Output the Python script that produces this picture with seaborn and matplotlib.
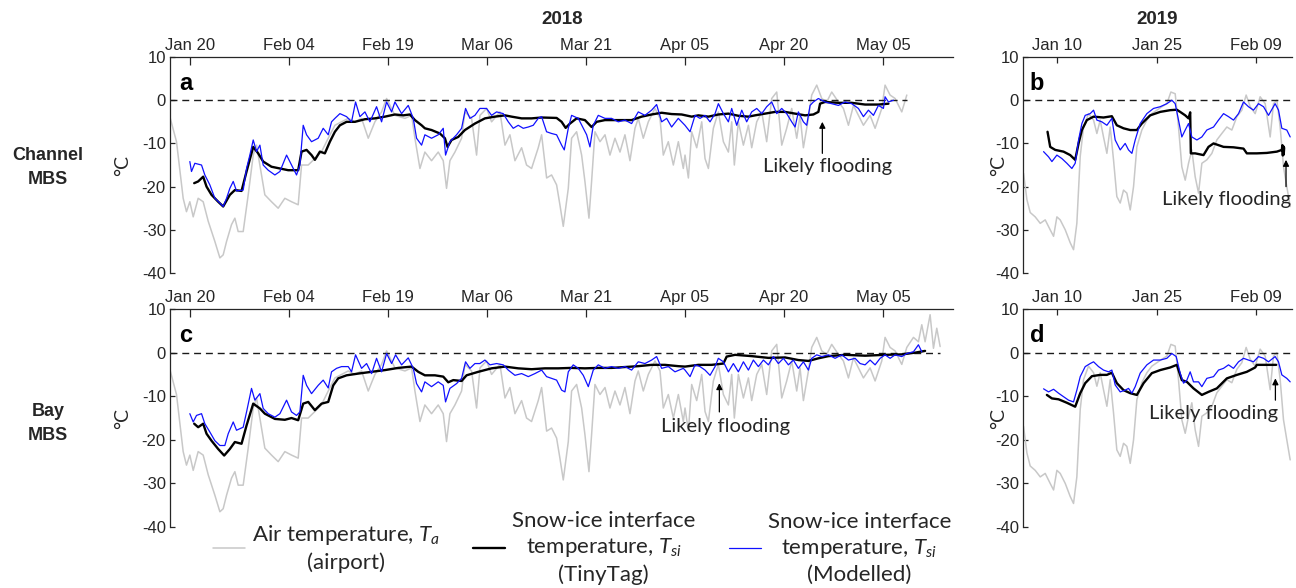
import numpy as np
import pandas as pd
import seaborn as sns
import matplotlib.pyplot as plt
import matplotlib.dates as mdates
from matplotlib.lines import Line2D

# ---- 2018 season, days after 20 Jan 2018 ----
air18_day = [-3.03, -2.02, -1.01, -0.51, 0, 0.51, 1.26, 2.02, 2.78, 3.79, 4.55, 5.05, 5.56, 6.31, 6.82,
             7.32, 8.08, 8.84, 9.6, 10.1, 10.86, 11.36, 12.37, 13.38, 14.39, 15.4, 16.41, 16.92, 17.93,
             18.94, 19.95, 20.96, 21.97, 22.98, 23.99, 25, 26.01, 27.02, 28.03, 29.04, 29.8, 31.06,
             32.58, 33.59, 34.09, 34.85,
             35.6, 36.61, 37.62, 38.38, 38.88, 39.39, 40.15, 41.16, 41.66, 42.67, 43.43, 43.94, 44.95,
             45.7, 46.97, 47.73, 48.48, 49.24, 50.25, 51, 51.76, 52.77, 53.28, 54.04, 54.79, 55.55,
             56.05, 56.56, 57.32, 57.82, 58.58, 59.34, 59.84, 60.45, 60.85, 61.36, 62.12, 62.88, 63.63,
             64.39, 65.15, 65.9, 66.66, 67.42, 67.92, 68.68, 69.44, 70.45, 71.21, 71.71, 72.47, 73.23,
             73.99, 74.74,
             75, 75.51, 76.01, 76.77, 77.53, 78.03, 78.54, 79.29, 80.05, 80.81, 81.57, 82.07, 82.47,
             83.08, 83.84, 84.6, 85.1, 85.86, 86.62, 87.37, 88.13, 88.89, 89.65, 90.4, 91.16, 91.92,
             92.42, 92.93, 93.69, 94.19, 94.95, 95.71, 96.46, 97.22, 98.23, 98.99, 99.75, 100.51,
             101.26, 102.02, 103.03, 103.79, 104.8, 105.3, 106.06, 106.82, 107.83, 108.59, 109.6,
             110.35, 110.86, 111.36, 112.12, 112.63, 113.13, 113.64]
air18_temp = [-3.8, -9.6, -22.7, -25.8, -23.5, -27, -22.7, -23.5, -28, -32.7, -36.5, -35.8, -32.7, -28.8,
              -27.3, -30.4, -30.4, -21.9, -12.7, -10.4, -17.3, -21.9, -23.5, -25, -22.7, -23.5, -24.2,
              -15, -15, -13.5, -11.9, -8.8, -5.8, -5, -4.2, -5, -4.2, -8.8, -5, -2.7, 0.4, -3.5, -4.2,
              -3.5, -8.8, -15.8,
              -12, -14, -12, -14, -20.4, -14, -12, -8.8, -2.7, -4.2, -12.7, -3.5, -1.9, -5, -2.7, -10.4,
              -8, -14, -11, -15, -15.8, -11, -8, -18, -17.3, -19.6, -24.2, -29.2, -20.4, -8.8, -7.3,
              -12.7, -18.8, -27.3, -18.8, -7.3, -9.6, -8, -12.7, -8.8, -12, -8, -14, -6.5, -4.2, -8.8,
              -5, -1.9, -4.2, -12.7, -9.6, -15, -9.6, -15.8,
              -12.7, -18, -7.3, -11, -5, -13.5, -15.8, -6.5, -2.7, -9.6, -12, -5, -15, -5, -10.4, -5.8,
              -11, -5, -2.7, -9.6, 0.4, 1.9, -10.4, -6.5, -1.9, -8.8, -3.5, -11, -4.2, 1.2, 3.5, 0.4,
              -0.4, 1.9, -0.4, -1.9, -5.8, -1.2, -3.5, -5.8, -3.5, -6.5, -1.9, 3.5, 1.2, 0.4, -2.7, 1.2,
              3.5, 2.5, 6.4, 2.5, 8.7, 1.0, 5.6, 1.4]

ch_mod_day = [0, 0.25, 0.76, 1.77, 2.27, 3.03, 3.79, 4.55, 5.05, 5.56, 6.06, 6.57, 7.07, 8.08, 8.59, 9.09,
              9.6, 10.1, 10.61, 11.11, 11.87, 12.88, 13.64, 14.65, 15.4, 16.16, 16.67, 17.17, 17.68,
              18.43, 19.44, 20.2, 20.96, 21.46, 21.97, 22.73, 23.74, 24.49, 25.1, 25.76, 26.52, 27.27,
              28.28, 29.04, 29.8, 30.56, 31.06, 32.07, 33.08, 33.84, 34.34, 35.1,
              35.6, 36.61, 37.62, 38.38, 38.73, 39.39, 40.4, 41.16, 41.76, 42.42, 43.18, 43.93, 44.94,
              45.7, 46.46, 47.47, 48.23, 48.98, 49.74, 50.5, 51.26, 52.01, 52.77, 53.28, 54.03, 54.79,
              55.55, 56.31, 56.71, 57.32, 57.82, 58.83, 59.59, 60.1, 60.6, 61.1, 61.86, 62.87, 63.88,
              64.89, 65.9, 66.91, 67.92, 68.93, 69.94, 70.7, 71.46, 72.22, 72.97, 73.98, 74.99,
              75.76, 76.52, 77.27, 78.03, 78.79, 79.55, 80.05, 80.81, 81.57, 82.07, 82.83, 83.59, 84.34,
              85.1, 85.86, 86.62, 87.37, 88.13, 88.89, 89.65, 90.4, 91.16, 91.67, 92.17, 92.93, 93.43,
              93.94, 94.44, 95.2, 96.21, 97.22, 98.23, 99.24, 100.25, 101.26, 102.02, 102.78, 103.54,
              104.29, 105.05, 105.3, 105.81, 106.57]
ch_mod_temp = [-14.2, -16.5, -14.6, -15, -17.3, -19.6, -22.7, -23.8, -24.6, -22.7, -20.4, -18.8, -21,
               -20.8, -15.8, -12.7, -9.2, -11.9, -10.4, -15, -16.2, -17.3, -16.5, -12.7, -15, -17.3,
               -15, -5.8, -8, -9.6, -8.8, -6.5, -8, -5, -4.2, -3.1, -3.8, -5, -0.4, -3.8, -2.7, -5,
               -1.5, -5, -0.4, -2.7, -0.4, -3.1, -1.2, -4.2, -8.8, -10.4,
               -8, -8.8, -8, -6.5, -12.7, -9.6, -8, -6.5, -1.9, -4.2, -3.5, -1.9, -1.9, -3.5, -2.7,
               -3.1, -5, -6.5, -5.8, -6.5, -6.2, -5.8, -4.2, -3.8, -7.3, -7.7, -8, -10.4, -11.5, -6.5,
               -3.5, -4.2, -6.5, -8, -10.8, -5.8, -3.5, -4.2, -4.2, -5, -4.6, -5.4, -2.7, -3.5, -2.3,
               -1, -5, -4.2, -6.2, -4.2, -5.8,
               -7.3, -3.5, -4.2, -3.5, -5, -3.1, -0.8, -3.1, -5, -1.9, -5.8, -2.3, -5, -2.7, -1.9,
               -3.1, -1.5, -0.4, -3.1, -1.9, -3.1, -5, -6.2, -2.7, -5, -5.8, -1.2, -0.4, 0.4, -0.4,
               -0.8, -1.2, -0.4, -0.8, -1.9, -3.8, -2.3, -3.5, -1.2, -1.9, 0.8, -0.4, 0]

ch_tag_day = [0.66, 1.26, 2.02, 2.53, 3.28, 4.29, 5.05, 6.06, 6.82, 7.83, 8.59, 9.6, 10.35, 11.11, 12.37,
              13.64, 14.9, 16.41, 16.92, 17.68, 18.43, 18.94, 19.7, 20.45, 21.21, 21.97, 22.73, 23.74,
              25, 26.52, 28.03, 29.55, 31.06, 32.32, 33.33, 34.09, 35.1,
              35.6, 36.61, 37.87, 38.63, 39.03, 39.64, 40.65, 41.66, 43.18, 44.69, 46.21, 47.72, 48.73,
              50.25, 51.76, 53.28, 55.55, 56.31, 56.92, 57.57, 58.58, 59.84, 60.85, 61.61, 62.87,
              64.89, 66.91, 68.43, 69.94, 71.46, 72.97, 74.49,
              76.01, 77.02, 78.54, 80.05, 81.57, 83.08, 84.6, 85.61, 87.12, 88.64, 90.15, 91.67, 93.18,
              94.44, 95.2, 95.45, 96.21, 98.23, 100.25, 102.27, 104.29, 105.81]
ch_tag_temp = [-19.2, -18.8, -17.7, -20, -21.9, -23.5, -24.6, -21.9, -20.8, -21, -16.5, -10.8, -12.3,
               -14.2, -15.4, -15.8, -16.2, -16.2, -11.9, -11.5, -12.7, -13.8, -11.9, -12.3, -9.6, -7.3,
               -5.8, -5, -5, -4.4, -4.2, -3.8, -3.3, -3.5, -3.3, -4.6, -5.8,
               -6.5, -6.9, -7.7, -8.8, -10.8, -9.2, -8.5, -6.9, -5.4, -4.2, -3.8, -3.5, -3.8, -4.2,
               -4.2, -4, -4.1, -5, -6.4, -5.4, -4.2, -4.6, -6.2, -5, -4.6, -4.6, -4.6, -3.8, -3.3,
               -2.9, -3.2, -3.3,
               -3.8, -3.5, -3.8, -3.3, -3.1, -3.6, -3.8, -3.5, -3.1, -2.7, -2.7, -3.1, -3.5, -3.3,
               -2.7, -0.8, -0.4, -0.6, -0.6, -1, -1, -0.8]

bay_mod_day = [0, 0.51, 1.01, 1.77, 2.27, 3.03, 3.79, 4.55, 5.3, 5.81, 6.57, 7.07, 8.08, 8.59, 9.34, 9.85,
               10.61, 11.11, 11.87, 12.88, 13.64, 14.65, 15.4, 16.16, 16.67, 17.17, 17.68, 18.43, 19.44,
               20.2, 20.96, 21.46, 22.22, 22.98, 23.99, 24.49, 25.1, 26.01, 26.77, 27.53, 28.28, 29.04,
               29.8, 30.56, 31.16, 32.07, 33.08, 33.84, 34.34, 35.1,
               35.6, 36.61, 37.62, 38.38, 38.73, 39.39, 40.4, 41.16, 41.76, 42.42, 43.18, 43.93, 44.69,
               45.45, 46.46, 47.47, 48.23, 49.24, 50.25, 51.26, 52.27, 53.28, 54.03, 54.79, 55.55,
               56.31, 56.81, 57.32, 58.07, 58.83, 59.59, 60.35, 61.1, 61.86, 62.87, 63.88, 64.89, 65.9,
               66.91, 67.92, 68.93, 69.94, 70.7, 71.46, 72.47, 73.48, 74.74,
               75, 75.76, 76.52, 77.27, 78.03, 78.79, 79.55, 80.05, 80.81, 81.57, 82.32, 83.08, 83.84,
               84.6, 85.35, 86.11, 86.87, 87.63, 88.38, 89.14, 89.9, 90.66, 91.41, 92.17, 92.93, 93.69,
               94.19, 94.95, 95.71, 96.72, 97.73, 98.74, 99.75, 100.76, 101.52, 102.27, 103.03, 103.79,
               104.55, 105.3, 106.06, 106.82, 107.83, 108.59, 109.6, 110.35, 110.86]
bay_mod_temp = [-14, -15.9, -14.4, -14, -16.3, -18.2, -20.2, -21.3, -21.3, -18.6, -15.9, -17.8, -17.1,
                -13.6, -8.2, -10.9, -9.4, -12.8, -14, -14.8, -14, -10.9, -13.6, -14.4, -13.6, -5.2,
                -7.5, -9.4, -7.5, -6.3, -8.1, -4.4, -3.6, -3.2, -3.2, -4.4, -0.5, -3.6, -2.5, -4.8,
                -1.3, -4.4, -0.2, -2.5, -0.5, -2.8, -1.2, -3.6, -7.1, -9,
                -6.7, -7.8, -6.7, -7.5, -11.3, -8.2, -7.1, -5.9, -2.1, -3.6, -2.5, -2.5, -1.7, -2.8,
                -2.5, -2.8, -4, -5.2, -4.8, -5.5, -4.8, -4, -5.5, -5.9, -6.3, -8.6, -9, -4.4, -2.8,
                -3.6, -5.2, -7.8, -4, -2.8, -3.6, -3.2, -3.6, -3.2, -4, -2.1, -2.5, -1.7, -0.9, -3.6,
                -3.2, -4.4, -3.6,
                -4, -5.5, -2.8, -3.2, -4, -5.2, -3.2, -1.3, -2.1, -4.4, -2.5, -4.4, -2.1, -4, -1.7,
                -3.2, -1.7, -2.8, -0.9, -2.5, -1.3, -2.8, -1.7, -3.6, -2.1, -4, -1.3, -0.5, -0.9, -0.5,
                -1.3, -0.5, -1.7, -1.3, -2.5, -2.8, -1.7, -2.8, -1.3, -0.5, -1.3, -0.5, -0.9, -0.2, 0.2,
                1.8, 0.2]

bay_tag_day = [0.66, 1.26, 2.02, 2.53, 3.28, 4.29, 5.2, 6.06, 6.82, 7.83, 8.59, 9.6, 10.61, 11.36, 12.88,
               14.39, 15.4, 16.41, 17.17, 17.93, 18.94, 19.95, 20.96, 21.72, 22.47, 23.74, 25.51, 27.53,
               29.55, 31.57, 33.59, 34.6,
               35.6, 37.12, 38.38, 39.14, 39.9, 41.16, 41.91, 43.68, 45.7, 47.72, 49.74, 51.76, 53.78,
               55.8, 57.82, 59.84, 61.86, 63.88, 65.9, 67.92, 69.94, 71.96, 73.98,
               75, 77.02, 79.04, 80.81, 81.31, 82.58, 85.1, 87.63, 90.15, 92.17, 93.69, 95.2, 96.72,
               99.24, 102.27, 105.3, 107.83, 109.85, 111.36]
bay_tag_temp = [-16.3, -17.1, -16.3, -18.6, -20.2, -22.1, -23.6, -22.1, -20.5, -20.9, -16.7, -11.7, -12.8,
                -14, -15.2, -15.4, -15, -15.5, -11.7, -11.3, -13.2, -11.7, -11.3, -7.5, -5.9, -5.2,
                -4.8, -4.4, -4, -3.5, -3.2, -4.4,
                -5.2, -5.2, -5.5, -6.8, -6.3, -6.5, -5.2, -4.4, -3.6, -3.2, -3.6, -3.8, -3.6, -3.6,
                -3.5, -3.6, -3.5, -3.5, -3.3, -3.1, -2.8, -2.8, -3.1,
                -3.2, -2.8, -2.8, -2.5, -0.9, -0.5, -0.8, -1.2, -1.1, -1.7, -1.9, -1.3, -0.8, -0.5,
                -0.7, -0.5, -0.4, 0, 0.4]

# ---- 2019 season, days after 10 Jan 2019 ----
air19_day = [-5.08, -4.57, -4.07, -3.32, -2.56, -1.81, -1.06, -0.55, -0.05, 0.45, 1.21, 1.96, 2.46, 2.96,
             3.47, 3.97, 4.72, 5.48, 5.98, 6.48, 6.98, 7.49, 7.99, 8.49, 8.99, 9.5, 10, 10.5, 11.01,
             11.51, 12.01, 12.76, 13.52, 14.27, 15.03, 15.78, 16.53, 17.14, 17.79, 18.29, 18.79, 19.3,
             19.8, 20.3, 20.8, 21.31, 21.81, 22.56, 23.32, 24.07, 24.82, 25.58, 26.33, 27.09, 27.84,
             28.49, 29.1, 29.85, 30.6, 31.36, 32.11, 32.61, 33.12, 33.62, 34.12, 34.62, 35.13]
air19_temp = [-16.9, -23, -26, -27, -28.5, -27.7, -30, -31.5, -27, -27.7, -30, -33, -34.6, -28.5, -13,
              -6.2, -3.1, -4.6, -7.7, -4.6, -8.5, -12.3, -6.2, -13.8, -22.3, -23.8, -20.8, -21.5, -25.4,
              -20, -10.8, -6.9, -4.6, -3.1, -2.3, -1.5, -0.8, 1.9, 1.5, -6.2, -15.4, -18.5, -14.6,
              -11.5, -17.7, -21.5, -14.6, -13.8, -12.3, -9.2, -7.7, -6.2, -6.9, -3.8, -2.3, 1.2, -1.5,
              -3.1, 0.8, -0.8, -8.5, -0.8, 0, -6.2, -15.4, -20, -24.6]

ch19_mod_day = [-2.06, -1.31, -0.8, -0.05, 0.7, 1.46, 2.21, 2.71, 3.22, 3.72, 4.22, 4.97, 5.48, 5.98, 6.73,
                7.49, 8.24, 8.74, 9.5, 10.25, 10.75, 11.26, 11.76, 12.51, 13.52, 14.52, 15.53, 16.53,
                17.29, 17.79, 18.29, 18.79, 19.3, 19.8, 20.3, 21.06, 21.81, 22.56, 23.57, 24.32, 25.08,
                25.83, 26.58, 27.34, 28.09, 28.84, 29.6, 30.35, 31.11, 31.86, 32.86, 33.37, 33.87,
                34.62, 35.13]
ch19_mod_temp = [-11.9, -13.1, -14.2, -12.7, -13.5, -14.6, -15.8, -14.6, -9.2, -5.4, -3.5, -3.1, -2.3,
                 -4.6, -5, -5.8, -4.2, -9.2, -11.5, -10, -11.5, -12.3, -9.2, -5.4, -3.1, -1.9, -1.5,
                 -0.8, 0, -0.8, -4.6, -8.5, -6.9, -5.4, -8.5, -9.2, -8.5, -6.9, -6.2, -4.6, -3.1, -3.8,
                 -4.6, -3.1, -0.4, -1.5, -2.3, -0.8, -1.5, -3.5, -0.8, -2.3, -6.5, -6.9, -8.5]

ch19_tag_day = [-1.46, -1.06, -0.3, 0.95, 1.96, 2.71, 3.22, 3.72, 4.47, 5.48, 6.98, 8.24, 8.99, 10, 11.01,
                12.01, 12.76, 14.02, 15.53, 17.04, 18.04, 18.54, 19.3, 19.8, 20.05, 20.15, 20.8, 22.06,
                22.81, 23.57, 25.08, 26.58, 28.09, 28.59, 30.1, 31.61, 33.12, 33.87, 33.95, 34.02,
                34.08, 34.15, 34.22]
ch19_tag_temp = [-7.3, -10.8, -11.5, -11.9, -12.7, -13.8, -10, -6.9, -4.6, -3.8, -4, -3.7, -5.8, -6.5,
                 -6.9, -6.9, -5.4, -3.5, -2.7, -2.3, -2.2, -2.7, -3.5, -4.2, -2.8, -12.3, -12.3, -12.7,
                 -10.8, -10, -10.8, -10.9, -11.2, -12.3, -12.3, -12.2, -11.9, -11.5, -10.4, -12.8,
                 -10.6, -12.6, -11.0]

bay19_mod_day = [-2.06, -1.31, -0.55, 0.2, 0.95, 1.71, 2.46, 2.96, 3.47, 4.22, 4.97, 5.48, 6.23, 6.98,
                 7.74, 8.24, 8.74, 9.5, 10.25, 10.75, 11.26, 11.76, 12.51, 13.52, 14.52, 15.53, 16.53,
                 17.29, 17.94, 18.54, 19.05, 19.55, 20.05, 20.55, 21.31, 21.81, 22.56, 23.57, 24.32,
                 25.08, 25.83, 26.58, 27.34, 28.09, 28.84, 29.6, 30.35, 31.11, 31.86, 32.86, 33.37,
                 33.87, 34.62, 35.13]
bay19_mod_temp = [-8.3, -9, -8.4, -9.3, -10.1, -10.9, -11.3, -8.6, -5.5, -3.2, -2.5, -2.1, -3.2, -4,
                  -4.4, -4, -7.4, -9, -8.6, -8.2, -9.3, -7.8, -4.7, -2.8, -1.7, -1.7, -1.3, -0.2, -0.9,
                  -4.7, -7, -6.3, -4.4, -6.7, -6.7, -7.8, -5.9, -5.5, -4, -3.6, -2.8, -3.6, -2.1, -1.3,
                  -1.7, -2.1, -0.9, -1.3, -2.1, -0.9, -2.1, -5.1, -5.9, -6.7]

bay19_tag_day = [-1.56, -0.8, 0.2, 1.46, 2.71, 3.47, 4.22, 5.23, 6.48, 7.49, 8.24, 8.99, 10, 11.01, 12.01,
                 13.02, 14.27, 15.53, 17.04, 18.04, 18.79, 19.55, 20.55, 21.81, 22.81, 24.07, 25.58,
                 27.09, 28.59, 29.85, 30.1, 31.61, 33.02]
bay19_tag_temp = [-9.7, -10.5, -10.7, -11.5, -12.4, -9.3, -7, -5.4, -5.1, -5.1, -4.6, -7, -8.6, -9.3,
                  -9.7, -7, -4.7, -4, -3.4, -2.8, -6.3, -6.7, -8.2, -9.7, -9, -8.2, -5.9, -5.1, -4.4,
                  -3.4, -2.8, -2.8, -2.8]

# flooding markers: (day, arrow tip, arrow tail)
flood_a = (95.8, -5.0, -12.3)
flood_c = (80.2, -7.0, -13.6)
flood_b = (34.5, -13.8, -20.0)
flood_d = (32.9, -5.9, -10.9)

start18 = pd.Timestamp('2018-01-20')
start19 = pd.Timestamp('2019-01-10')


def frame(days, temps, start):
    t = start + pd.to_timedelta(np.asarray(days, dtype=float), unit='D')
    return pd.DataFrame({'time': t, 'temp': temps})


def at(start, day):
    return start + pd.Timedelta(days=day)


sns.set_theme(style="ticks")
plt.rcParams['font.family'] = ['Liberation Sans', 'DejaVu Sans']
plt.rcParams['axes.unicode_minus'] = False
plt.rcParams['mathtext.fontset'] = 'custom'
plt.rcParams['mathtext.it'] = 'Lato:italic'
plt.rcParams['mathtext.rm'] = 'Lato'

GRAY, BLACK, BLUE = '#c8c8c8', 'black', '#1010ff'
AXC = '#262626'

fig = plt.figure(figsize=(12.96, 5.88), dpi=100)
ax_a = fig.add_axes([0.1312, 0.5357, 0.6042, 0.3673])
ax_c = fig.add_axes([0.1312, 0.1037, 0.6042, 0.3707])
ax_b = fig.add_axes([0.7894, 0.5357, 0.2075, 0.3673])
ax_d = fig.add_axes([0.7894, 0.1037, 0.2075, 0.3707])

air18 = frame(air18_day, air18_temp, start18)
air19 = frame(air19_day, air19_temp, start19)

panels = [
    (ax_a, air18[air18['time'] <= at(start18, 109.6)], frame(ch_tag_day, ch_tag_temp, start18),
     frame(ch_mod_day, ch_mod_temp, start18), start18, 'a', flood_a),
    (ax_c, air18, frame(bay_tag_day, bay_tag_temp, start18),
     frame(bay_mod_day, bay_mod_temp, start18), start18, 'c', flood_c),
    (ax_b, air19, frame(ch19_tag_day, ch19_tag_temp, start19),
     frame(ch19_mod_day, ch19_mod_temp, start19), start19, 'b', flood_b),
    (ax_d, air19, frame(bay19_tag_day, bay19_tag_temp, start19),
     frame(bay19_mod_day, bay19_mod_temp, start19), start19, 'd', flood_d),
]

for ax, air, tag, mod, start, letter, flood in panels:
    is18 = start.year == 2018
    xlim = (at(start, -3.0), at(start, 115.6)) if is18 else (at(start, -5.15), at(start, 35.4))

    sns.lineplot(data=air, x='time', y='temp', color=GRAY, lw=1.1, estimator=None, ax=ax)
    ax.hlines(0, xlim[0], air['time'].max() if is18 else xlim[1], colors='k', lw=1.0,
              linestyles=(0, (5, 3.5)))
    sns.lineplot(data=tag, x='time', y='temp', color=BLACK, lw=1.7, estimator=None, ax=ax)
    sns.lineplot(data=mod, x='time', y='temp', color=BLUE, lw=0.9, estimator=None, ax=ax)

    ax.set_xlim(*xlim)
    ax.set_ylim(-40, 10)
    ax.set_yticks([-40, -30, -20, -10, 0, 10])
    ticks = pd.date_range(start, periods=8 if is18 else 3, freq='15D')
    ax.set_xticks(ticks)
    ax.xaxis.set_major_formatter(mdates.DateFormatter('%b %d'))
    ax.xaxis.tick_top()
    ax.tick_params(axis='x', direction='in', length=6 if is18 else 4, width=0.9, colors=AXC,
                   labelsize=12, pad=3, top=True, bottom=False, labeltop=True, labelbottom=False)
    ax.tick_params(axis='y', direction='in', length=3.5, width=0.9, colors=AXC, labelsize=12, pad=3)
    for side in ['bottom', 'right']:
        ax.spines[side].set_visible(False)
    for side in ['top', 'left']:
        ax.spines[side].set_color(AXC)
        ax.spines[side].set_linewidth(0.9)
    ax.set_xlabel('')
    ax.set_ylabel('°C', fontsize=14, family='Lato', color=AXC, labelpad=2)
    ax.yaxis.set_label_coords(-0.05 if is18 else -0.06, 0.5)

    ax.text(0.012 if is18 else 0.025, 0.93, letter, transform=ax.transAxes, fontsize=17,
            fontweight='bold', va='top', ha='left', color='black')

    fday, tip, tail = flood
    ax.annotate('', xy=(at(start, fday), tip), xytext=(at(start, fday), tail),
                arrowprops=dict(arrowstyle='-|>', color='black', lw=0.9, mutation_scale=9,
                                shrinkA=0, shrinkB=0))

ax_a.text(at(start18, 96.6), -15.4, 'Likely flooding', ha='center', va='center', fontsize=14.5,
          family='Lato')
ax_c.text(at(start18, 81.1), -16.9, 'Likely flooding', ha='center', va='center', fontsize=14.5,
          family='Lato')
ax_b.text(at(start19, 35.3), -23.0, 'Likely flooding', ha='right', va='center', fontsize=14.5,
          family='Lato')
ax_d.text(at(start19, 23.5), -13.9, 'Likely flooding', ha='center', va='center', fontsize=14.5,
          family='Lato')

fig.text(0.434, 0.967, '2018', ha='center', va='center', fontsize=13.5, fontweight='bold', color=AXC)
fig.text(0.893, 0.967, '2019', ha='center', va='center', fontsize=13.5, fontweight='bold', color=AXC)
fig.text(0.037, 0.715, 'Channel\nMBS', ha='center', va='center', fontsize=13, fontweight='bold',
         linespacing=1.5)
fig.text(0.037, 0.28, 'Bay\nMBS', ha='center', va='center', fontsize=13, fontweight='bold',
         linespacing=1.5)

handles = [Line2D([], [], color=GRAY, lw=1.1), Line2D([], [], color=BLACK, lw=1.7),
           Line2D([], [], color=BLUE, lw=0.9)]
labels = ['Air temperature, $T_a$\n(airport)',
          'Snow-ice interface\ntemperature, $T_{si}$\n(TinyTag)',
          'Snow-ice interface\ntemperature, $T_{si}$\n(Modelled)']
leg = fig.legend(handles, labels, ncol=3, loc='center', bbox_to_anchor=(0.449, 0.068),
                 frameon=False, prop={'family': 'Lato', 'size': 16}, handlelength=1.45,
                 handletextpad=0.3, columnspacing=1.5, borderaxespad=0, borderpad=0)
for t in leg.get_texts():
    t.set_multialignment('center')
    t.set_linespacing(1.3)

fig.savefig('out.png', dpi=100)
